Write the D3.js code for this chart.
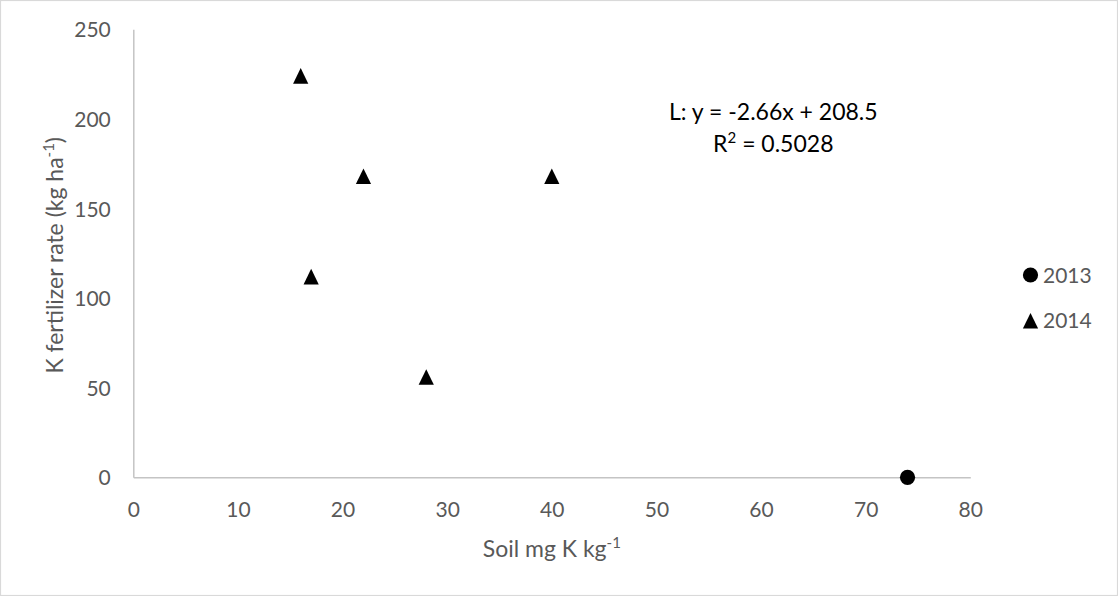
<!DOCTYPE html>
<html>
<head>
<meta charset="utf-8">
<script src="https://cdn.jsdelivr.net/npm/d3@7"></script>
<style>
  html, body { margin: 0; padding: 0; background: #fff; }
  svg { display: block; }
  text { font-family: Lato, "Liberation Sans", sans-serif; fill: #595959; }
</style>
</head>
<body>
<svg id="chart" width="1118" height="596"></svg>
<script>
// Soil potassium vs. K fertilizer rate, by year
const seriesNames = ["2013", "2014"];
const soilK2013 = [74];
const rate2013 = [0];
const soilK2014 = [16, 22, 40, 17, 28];
const rate2014 = [224, 168, 168, 112, 56];

const xTicks = [0, 10, 20, 30, 40, 50, 60, 70, 80];
const yTicks = [0, 50, 100, 150, 200, 250];

const fitLine1 = "L: y = -2.66x + 208.5";
const fitLine2Base = "R";
const fitLine2Sup = "2";
const fitLine2Rest = " = 0.5028";

const width = 1118, height = 596;
const plot = { left: 133.3, right: 970.3, top: 29.3, bottom: 477.3 };

const svg = d3.select("#chart");

// chart border
svg.append("rect")
  .attr("x", 0.5).attr("y", 0.5)
  .attr("width", width - 1).attr("height", height - 1)
  .attr("fill", "#fff").attr("stroke", "#d9d9d9").attr("stroke-width", 1.2);

const x = d3.scaleLinear().domain([0, 80]).range([plot.left, plot.right]);
const y = d3.scaleLinear().domain([0, 250]).range([plot.bottom, plot.top]);

// axes
const xAxis = d3.axisBottom(x).tickValues(xTicks).tickSize(0).tickPadding(0);
const yAxis = d3.axisLeft(y).tickValues(yTicks).tickSize(0).tickPadding(0);

const gx = svg.append("g").attr("transform", `translate(0,${plot.bottom})`).call(xAxis);
const gy = svg.append("g").attr("transform", `translate(${plot.left},0)`).call(yAxis);

[gx, gy].forEach(g => {
  g.select(".domain").attr("stroke", "#c4c4c4").attr("stroke-width", 1.5);
  g.selectAll("text")
    .attr("fill", "#595959")
    .style("font-family", 'Lato, "Liberation Sans", sans-serif')
    .style("font-size", "21px");
});
gx.selectAll("text").attr("dy", null).attr("y", 39.4);
gy.selectAll("text").attr("dy", null).attr("x", -22.5).attr("y", 7.6);

// axis titles
const xTitle = svg.append("text")
  .attr("x", (plot.left + plot.right) / 2)
  .attr("y", 556.7)
  .attr("text-anchor", "middle")
  .style("font-size", "23px");
xTitle.append("tspan").text("Soil mg K kg");
xTitle.append("tspan").attr("dy", -9).style("font-size", "15px").text("-1");

const yTitle = svg.append("text")
  .attr("transform", `translate(63,${(plot.top + plot.bottom) / 2 + 2}) rotate(-90)`)
  .attr("text-anchor", "middle")
  .style("font-size", "23px");
yTitle.append("tspan").text("K fertilizer rate (kg ha");
yTitle.append("tspan").attr("dy", -9).style("font-size", "15px").text("-1");
yTitle.append("tspan").attr("dy", 9).text(")");

// markers
const triangle = "M0,-7.8L7.6,7.8L-7.6,7.8Z";

svg.append("g").selectAll("circle")
  .data(soilK2013.map((v, i) => ({ x: v, y: rate2013[i] })))
  .join("circle")
  .attr("cx", d => x(d.x)).attr("cy", d => y(d.y))
  .attr("r", 7.6).attr("fill", "#000");

svg.append("g").selectAll("path")
  .data(soilK2014.map((v, i) => ({ x: v, y: rate2014[i] })))
  .join("path")
  .attr("d", triangle)
  .attr("transform", d => `translate(${x(d.x)},${y(d.y)})`)
  .attr("fill", "#000");

// regression label
const eq = svg.append("g").attr("transform", "translate(773.3,0)");
eq.append("text").attr("y", 120).attr("text-anchor", "middle")
  .style("font-size", "23px").style("fill", "#000")
  .text(fitLine1);
const r2 = eq.append("text").attr("y", 151.7).attr("text-anchor", "middle")
  .style("font-size", "23px").style("fill", "#000");
r2.append("tspan").text(fitLine2Base);
r2.append("tspan").attr("dy", -9).style("font-size", "15px").text(fitLine2Sup);
r2.append("tspan").attr("dy", 9).text(fitLine2Rest);

// legend
const legend = svg.append("g");
const legendRows = [
  { name: seriesNames[0], cy: 275, shape: "circle" },
  { name: seriesNames[1], cy: 320.8, shape: "triangle" }
];
legendRows.forEach(r => {
  if (r.shape === "circle") {
    legend.append("circle").attr("cx", 1030.5).attr("cy", r.cy).attr("r", 7.6).attr("fill", "#000");
  } else {
    legend.append("path").attr("d", triangle)
      .attr("transform", `translate(1030.5,${r.cy})`).attr("fill", "#000");
  }
  legend.append("text").attr("x", 1043).attr("y", r.cy + 7.5)
    .style("font-size", "21px").text(r.name);
});
</script>
</body>
</html>
